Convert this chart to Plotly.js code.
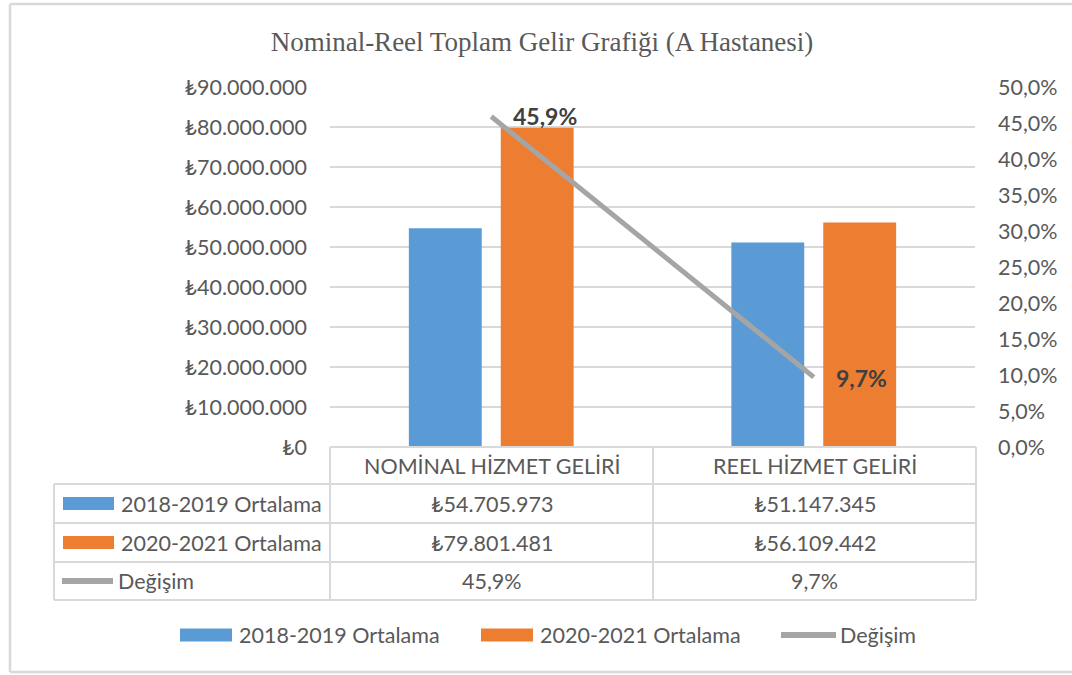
<!DOCTYPE html>
<html>
<head>
<meta charset="utf-8">
<script src="https://cdn.plot.ly/plotly-3.0.1.min.js"></script>
<style>html,body{margin:0;padding:0;background:#fff;}#chart{width:1072px;height:675px;}</style>
</head>
<body>
<div id="chart"></div>
<script>
// ---- data ----
const categories = ["NOMİNAL HİZMET GELİRİ", "REEL HİZMET GELİRİ"];
const seriesNames = ["2018-2019 Ortalama", "2020-2021 Ortalama", "Değişim"];
const avg2018_2019 = [54705973, 51147345];
const avg2020_2021 = [79801481, 56109442];
const change = [0.459, 0.097];
const titleText = "Nominal-Reel Toplam Gelir Grafiği (A Hastanesi)";

// ---- helpers ----
const W = 1072, H = 675;
const PL = 330, PR = 975, PT = 87, PB = 447;
const px = x => (x - PL) / (PR - PL);
const py = y => (PB - y) / (PB - PT);
function fmtTL(v){
  const s = Math.round(v).toString().replace(/\B(?=(\d{3})+(?!\d))/g, ".");
  return "₺" + s;
}
function fmtPct(v){ return (v*100).toFixed(1).replace(".", ",") + "%"; }

const FONT = "Lato, 'Open Sans', sans-serif";
const TXT = "#595959";
const GRID = "#D9D9D9";
const BLUE = "#5B9BD5", ORANGE = "#ED7D31", GRAY = "#A5A5A5";
const FS = 21.5;

const traces = [
  {type:"bar", name:seriesNames[0], x:categories, y:avg2018_2019, marker:{color:BLUE}, showlegend:false, hoverinfo:"skip"},
  {type:"bar", name:seriesNames[1], x:categories, y:avg2020_2021, marker:{color:ORANGE}, showlegend:false, hoverinfo:"skip"},
  {type:"scatter", mode:"lines", name:seriesNames[2], x:categories, y:change, yaxis:"y2",
   line:{color:GRAY, width:5}, showlegend:false, hoverinfo:"skip", cliponaxis:false}
];

const shapes = [];
const annotations = [];
function hline(x0,x1,y,color,w){ shapes.push({type:"line", xref:"paper", yref:"paper", x0:px(x0), x1:px(x1), y0:py(y), y1:py(y), line:{color:color, width:w}}); }
function vline(x,y0,y1,color,w){ shapes.push({type:"line", xref:"paper", yref:"paper", x0:px(x), x1:px(x), y0:py(y0), y1:py(y1), line:{color:color, width:w}}); }
function rect(x0,x1,y0,y1,color){ shapes.push({type:"rect", xref:"paper", yref:"paper", x0:px(x0), x1:px(x1), y0:py(y0), y1:py(y1), fillcolor:color, line:{width:0}}); }
function text(t,x,y,anchor,opts){ annotations.push(Object.assign({xref:"paper", yref:"paper", x:px(x), y:py(y), text:t, showarrow:false, xanchor:anchor, yanchor:"middle", font:{family:FONT, size:FS, color:TXT}}, opts||{})); }

// data labels for the change line (placed via the data axes)
change.forEach((v,i)=>{
  annotations.push({xref:"x", yref:"y2", x:categories[i], y:v, text:"<b>"+fmtPct(v)+"</b>", showarrow:false,
    xanchor:"left", yanchor:"middle", xshift:20, yshift:i===0?1:-1,
    font:{family:FONT, size:23, color:"#404040"}});
});

// outer border
hline(10, 1080, 4, GRID, 2.5);
hline(10, 1080, 672, GRID, 2.5);
vline(10, 4, 672, GRID, 2.5);

// data table
const colX = [54, 330, 653, 976];
const rowY = [447, 484, 523, 562, 600];
hline(colX[1], colX[3], rowY[0], GRID, 2);
vline(colX[1], rowY[0], rowY[4], GRID, 2);
vline(colX[2], rowY[0], rowY[4], GRID, 2);
vline(colX[3], rowY[0], rowY[4], GRID, 2);
for (let r = 1; r < rowY.length; r++) hline(colX[0], colX[3], rowY[r], GRID, 2);
vline(colX[0], rowY[1], rowY[4], GRID, 2);

categories.forEach((c,i)=>{
  const cx = (colX[i+1]+colX[i+2])/2;
  text(c, cx, (rowY[0]+rowY[1])/2, "center");
  text(fmtTL(avg2018_2019[i]), cx, (rowY[1]+rowY[2])/2, "center");
  text(fmtTL(avg2020_2021[i]), cx, (rowY[2]+rowY[3])/2, "center");
  text(fmtPct(change[i]), cx, (rowY[3]+rowY[4])/2, "center");
});
const rowMid = [(rowY[1]+rowY[2])/2, (rowY[2]+rowY[3])/2, (rowY[3]+rowY[4])/2];
rect(63, 114, rowMid[0]-6.5, rowMid[0]+6.5, BLUE);
rect(63, 114, rowMid[1]-6.5, rowMid[1]+6.5, ORANGE);
shapes.push({type:"line", xref:"paper", yref:"paper", x0:px(62), x1:px(113), y0:py(rowMid[2]), y1:py(rowMid[2]), line:{color:GRAY, width:6}});
text(seriesNames[0], 119, rowMid[0], "left");
text(seriesNames[1], 119, rowMid[1], "left");
text(seriesNames[2], 116, rowMid[2], "left");

// bottom legend
const LY = 635;
rect(180, 232, LY-6.5, LY+6.5, BLUE);
text(seriesNames[0], 237, LY, "left");
rect(481, 533, LY-6.5, LY+6.5, ORANGE);
text(seriesNames[1], 538, LY, "left");
shapes.push({type:"line", xref:"paper", yref:"paper", x0:px(781), x1:px(836), y0:py(LY), y1:py(LY), line:{color:GRAY, width:6}});
text(seriesNames[2], 838, LY, "left");

const layout = {
  width: W, height: H,
  margin: {l:PL, r:W-PR, t:PT, b:H-PB, pad:0},
  paper_bgcolor:"#fff", plot_bgcolor:"#fff",
  separators: ",.",
  barmode:"group", bargap:0.43, bargroupgap:0.207,
  showlegend:false,
  title:{text:titleText, xref:"container", yref:"container", x:542/W, y:1-42/H, xanchor:"center", yanchor:"middle",
         font:{family:"'Liberation Serif', 'Times New Roman', serif", size:27, color:TXT}},
  xaxis:{type:"category", range:[-0.5,1.5], showticklabels:false, showgrid:false, zeroline:false, showline:false, ticks:"", fixedrange:true},
  yaxis:{range:[0,90000000], dtick:10000000, tick0:0, tickprefix:"₺", tickformat:",d", showgrid:true, gridcolor:GRID, gridwidth:2,
         zeroline:false, showline:false, ticks:"", ticklabelstandoff:22, tickfont:{family:FONT, size:FS, color:TXT}, fixedrange:true},
  yaxis2:{overlaying:"y", side:"right", range:[0,0.5], dtick:0.05, tick0:0, tickformat:".1%", showgrid:false, zeroline:false,
          showline:false, ticks:"", ticklabelstandoff:22, tickfont:{family:FONT, size:FS, color:TXT}, fixedrange:true},
  shapes: shapes,
  annotations: annotations
};

Plotly.newPlot("chart", traces, layout, {displayModeBar:false, staticPlot:true});
</script>
</body>
</html>
